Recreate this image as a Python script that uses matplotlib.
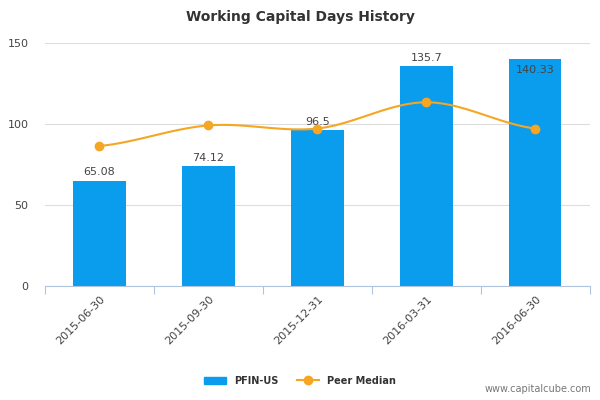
import numpy as np
import matplotlib.pyplot as plt

dates = ['2015-06-30', '2015-09-30', '2015-12-31', '2016-03-31', '2016-06-30']
pfin = [65.08, 74.12, 96.5, 135.7, 140.33]
peer = [86.5, 99.2, 97.3, 113.5, 97.3]
bar_labels = ['65.08', '74.12', '96.5', '135.7', '140.33']

fig = plt.figure(figsize=(6, 4), dpi=100)
ax = fig.add_axes([0.075, 0.285, 0.908, 0.607])

x = np.arange(len(dates))
ax.bar(x, pfin, width=0.48, color='#0a9ced', zorder=2)

# smooth curve through peer points (Catmull-Rom)
p = np.array(peer)
xs, ys = [], []
for i in range(len(p) - 1):
    p0 = p[i - 1] if i > 0 else p[i]
    p3 = p[i + 2] if i + 2 < len(p) else p[i + 1]
    t = np.linspace(0, 1, 30)
    y = 0.5 * (2 * p[i] + (-p0 + p[i + 1]) * t
               + (2 * p0 - 5 * p[i] + 4 * p[i + 1] - p3) * t ** 2
               + (-p0 + 3 * p[i] - 3 * p[i + 1] + p3) * t ** 3)
    xs.extend(i + t)
    ys.extend(y)
ax.plot(xs, ys, color='#f5a623', lw=1.5, zorder=3)
ax.plot(x, peer, 'o', color='#f5a623', ms=6, zorder=4)

for i, (v, lab) in enumerate(zip(pfin, bar_labels)):
    if i == len(pfin) - 1:
        ax.text(i, v - 4, lab, ha='center', va='top', fontsize=8, color='#444444')
    else:
        ax.text(i, v + 2, lab, ha='center', va='bottom', fontsize=8, color='#444444')

ax.set_ylim(0, 150)
ax.set_xlim(-0.5, len(dates) - 0.5)
ax.set_yticks([0, 50, 100, 150])
ax.yaxis.grid(True, color='#dddddd', lw=0.8)
ax.set_axisbelow(True)
for s in ['top', 'right', 'left']:
    ax.spines[s].set_visible(False)
ax.spines['bottom'].set_color('#b0c4de')
ax.tick_params(axis='y', length=0, labelsize=8, colors='#444444', pad=12)
ax.set_xticks(np.arange(-0.5, len(dates)), minor=False)
ax.set_xticklabels([''] * (len(dates) + 1))
ax.tick_params(axis='x', length=6, color='#b0c4de')
ax.set_xticks(x, minor=True)
ax.set_xticklabels(dates, minor=True, rotation=45, ha='right', rotation_mode='anchor',
                   fontsize=8, color='#444444')
ax.tick_params(axis='x', which='minor', length=0, pad=6)

fig.suptitle('Working Capital Days History', x=0.5, y=0.975, fontsize=10,
             fontweight='bold', color='#333333')

from matplotlib.patches import Patch
from matplotlib.lines import Line2D
handles = [Patch(color='#0a9ced', label='PFIN-US'),
           Line2D([], [], color='#f5a623', marker='o', lw=1.5, label='Peer Median')]
leg = fig.legend(handles=handles, loc='center', bbox_to_anchor=(0.5, 0.048), ncol=2,
                 frameon=False, prop={'size': 7, 'weight': 'bold'}, handlelength=2.2,
                 columnspacing=2)
for t in leg.get_texts():
    t.set_color('#333333')
fig.text(0.985, 0.02, 'www.capitalcube.com', ha='right', fontsize=7, color='#777777')

fig.savefig('out.png')
